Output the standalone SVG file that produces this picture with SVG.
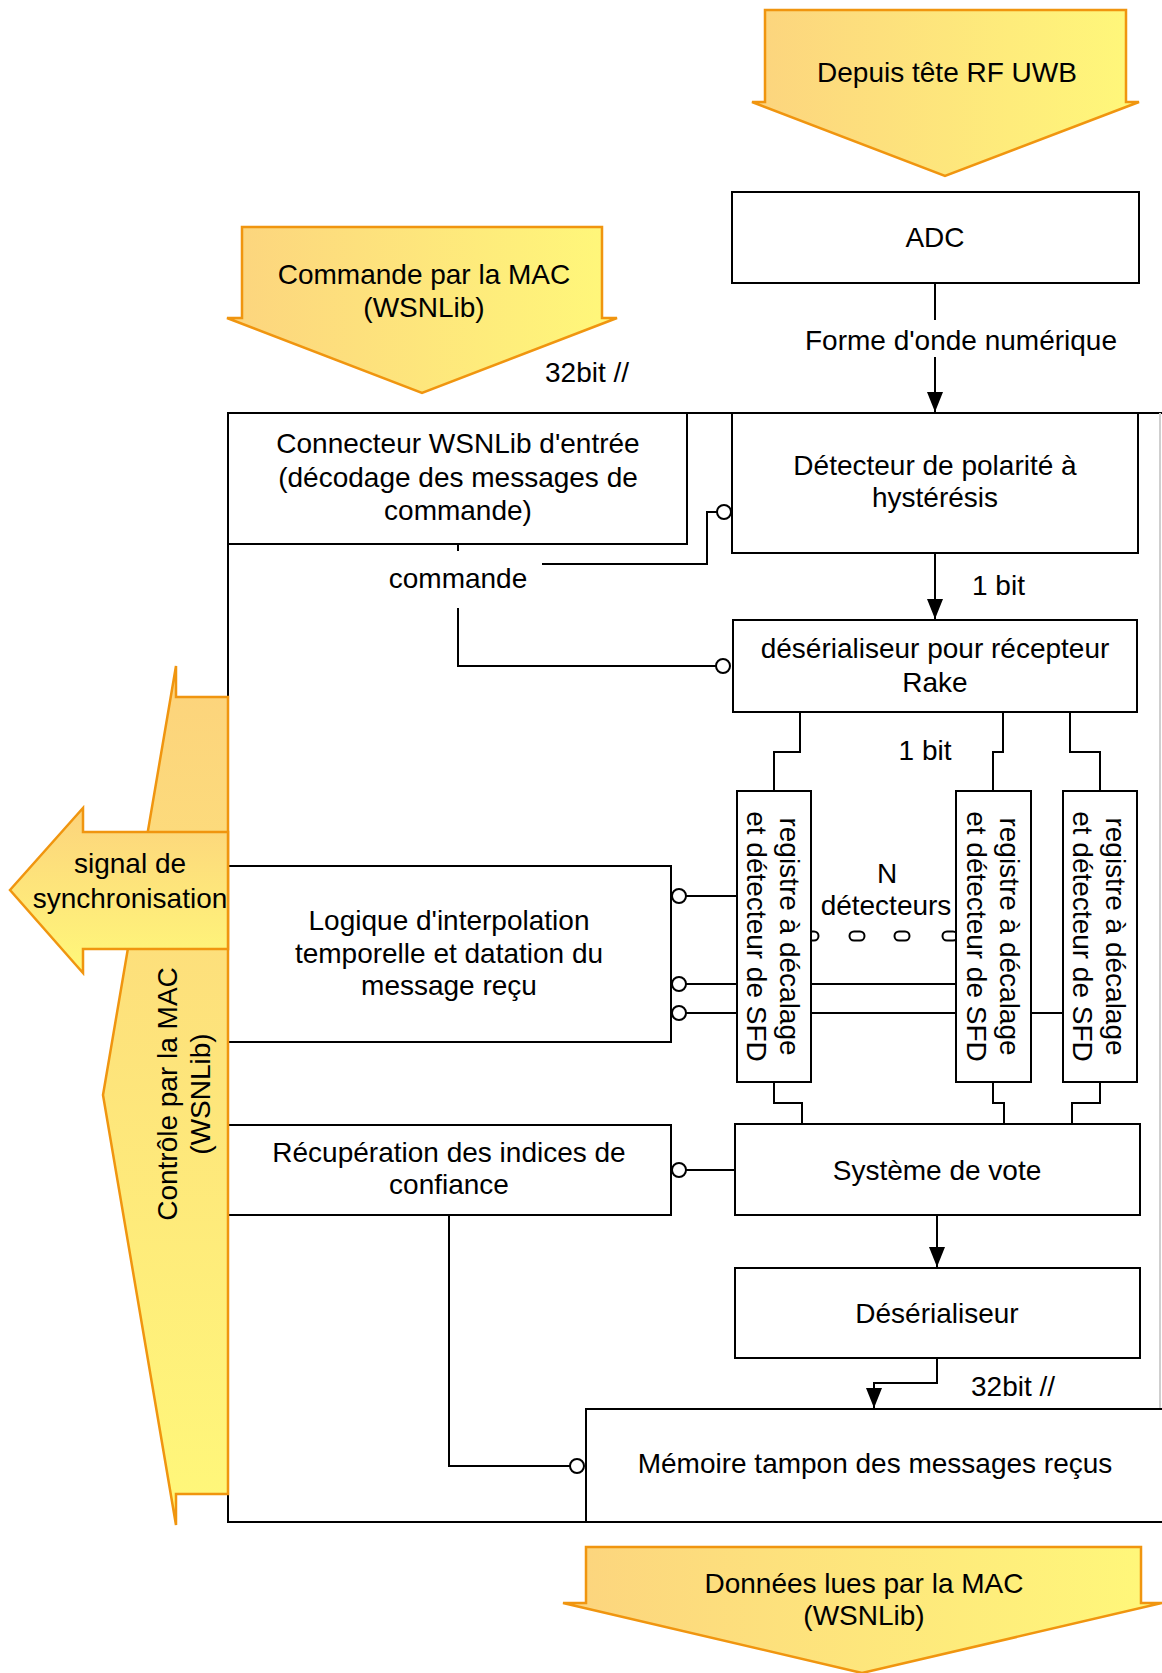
<svg xmlns="http://www.w3.org/2000/svg" width="1162" height="1673" viewBox="0 0 1162 1673">
  <style>
    .box { fill: #ffffff; stroke: #000000; stroke-width: 2; }
    .wire { fill: none; stroke: #000000; stroke-width: 2; }
    .port { fill: #ffffff; stroke: #000000; stroke-width: 2; }
    .fat { stroke: #f0950f; stroke-width: 2.5; stroke-linejoin: miter; }
    text { font-family: "Liberation Sans", Arial, Helvetica, sans-serif; font-size: 28px; fill: #000000; }
    .c { text-anchor: middle; }
  </style>
  <defs>
    <linearGradient id="gradH" x1="0" y1="0" x2="1" y2="0">
      <stop offset="0" stop-color="#fcd47e"/>
      <stop offset="1" stop-color="#fff87a"/>
    </linearGradient>
    <linearGradient id="gradV" x1="0" y1="0" x2="0" y2="1">
      <stop offset="0" stop-color="#fcd37c"/>
      <stop offset="1" stop-color="#fff87a"/>
    </linearGradient>
    <marker id="head" markerWidth="20" markerHeight="16" refX="20" refY="8" orient="auto" markerUnits="userSpaceOnUse" viewBox="0 0 20 16">
      <path d="M0,0 L20,8 L0,16 Z" fill="#000000"/>
    </marker>
  </defs>

  <!-- enclosing receiver block (right side runs off the page) -->
  <g id="frame">
    <path class="wire" d="M1162,413 L228,413 L228,1522 L1162,1522"/>
    <line x1="1160" y1="413" x2="1160" y2="1522" stroke="#cfcfcf" stroke-width="2"/>
  </g>

  <!-- ovals marking the elided detectors -->
  <g id="ellipsis">
    <rect class="port" x="803.5" y="931.5" width="15" height="9" rx="4.5"/>
    <rect class="port" x="849.5" y="931.5" width="15" height="9" rx="4.5"/>
    <rect class="port" x="894.5" y="931.5" width="15" height="9" rx="4.5"/>
    <rect class="port" x="942.5" y="931.5" width="15" height="9" rx="4.5"/>
  </g>

  <g id="connectors">
    <!-- ADC to polarity detector -->
    <path class="wire" d="M935,283 L935,320"/>
    <path class="wire" d="M935,357 L935,412" marker-end="url(#head)"/>
    <!-- detector to Rake deserialiser -->
    <path class="wire" d="M935,553 L935,619" marker-end="url(#head)"/>
    <!-- command bus -->
    <path class="wire" d="M458,544 L458,551"/>
    <path class="wire" d="M458,608 L458,666 L716,666"/>
    <path class="wire" d="M542,564 L707,564 L707,512 L717,512"/>
    <!-- Rake deserialiser to registers -->
    <path class="wire" d="M800,712 L800,752 L774,752 L774,791"/>
    <path class="wire" d="M1003,712 L1003,752 L993,752 L993,791"/>
    <path class="wire" d="M1070,712 L1070,752 L1100,752 L1100,791"/>
    <!-- registers to voting -->
    <path class="wire" d="M774,1082 L774,1103 L802,1103 L802,1124"/>
    <path class="wire" d="M993,1082 L993,1103 L1004,1103 L1004,1124"/>
    <path class="wire" d="M1100,1082 L1100,1103 L1072,1103 L1072,1124"/>
    <!-- interpolation logic to registers -->
    <path class="wire" d="M686,896 L737,896"/>
    <path class="wire" d="M686,984 L956,984"/>
    <path class="wire" d="M686,1013 L1063,1013"/>
    <!-- confidence to voting and buffer -->
    <path class="wire" d="M686,1170 L735,1170"/>
    <path class="wire" d="M449,1215 L449,1466 L570,1466"/>
    <!-- voting to deserialiser to buffer -->
    <path class="wire" d="M937,1215 L937,1267" marker-end="url(#head)"/>
    <path class="wire" d="M937,1358 L937,1383 L874,1383 L874,1408" marker-end="url(#head)"/>
    <!-- ports -->
    <circle class="port" cx="724" cy="512" r="7"/>
    <circle class="port" cx="723" cy="666" r="7"/>
    <circle class="port" cx="679" cy="896" r="7"/>
    <circle class="port" cx="679" cy="984" r="7"/>
    <circle class="port" cx="679" cy="1013" r="7"/>
    <circle class="port" cx="679" cy="1170" r="7"/>
    <circle class="port" cx="577" cy="1466" r="7"/>
  </g>

  <g id="labels">
    <text class="c" x="961" y="350">Forme d'onde numérique</text>
    <text x="545" y="382">32bit //</text>
    <text class="c" x="458" y="588">commande</text>
    <text x="972" y="595">1 bit</text>
    <text class="c" x="925" y="760">1 bit</text>
    <text class="c" x="887" y="883">N</text>
    <text class="c" x="886" y="915">détecteurs</text>
    <text x="971" y="1396">32bit //</text>
  </g>

  <g id="adc">
    <rect class="box" x="732" y="192" width="407" height="91"/>
    <text class="c" x="935" y="247">ADC</text>
  </g>

  <g id="connecteur">
    <rect class="box" x="228" y="413" width="459" height="131"/>
    <text class="c" x="458" y="453">Connecteur WSNLib d'entrée</text>
    <text class="c" x="458" y="487">(décodage des messages de</text>
    <text class="c" x="458" y="520">commande)</text>
  </g>

  <g id="detecteur-polarite">
    <rect class="box" x="732" y="413" width="406" height="140"/>
    <text class="c" x="935" y="475">Détecteur de polarité à</text>
    <text class="c" x="935" y="507">hystérésis</text>
  </g>

  <g id="deserialiseur-rake">
    <rect class="box" x="733" y="620" width="404" height="92"/>
    <text class="c" x="935" y="658">désérialiseur pour récepteur</text>
    <text class="c" x="935" y="692">Rake</text>
  </g>

  <g id="registre-1">
    <rect class="box" x="737" y="791" width="74" height="291"/>
    <g transform="translate(774,936.5) rotate(90)">
      <text class="c" x="0" y="-6">registre à décalage</text>
      <text class="c" x="0" y="27">et détecteur de SFD</text>
    </g>
  </g>

  <g id="registre-2">
    <rect class="box" x="956" y="791" width="75" height="291"/>
    <g transform="translate(993.5,936.5) rotate(90)">
      <text class="c" x="0" y="-6">registre à décalage</text>
      <text class="c" x="0" y="27">et détecteur de SFD</text>
    </g>
  </g>

  <g id="registre-3">
    <rect class="box" x="1063" y="791" width="74" height="291"/>
    <g transform="translate(1100,936.5) rotate(90)">
      <text class="c" x="0" y="-6">registre à décalage</text>
      <text class="c" x="0" y="27">et détecteur de SFD</text>
    </g>
  </g>

  <g id="logique-interpolation">
    <rect class="box" x="228" y="866" width="443" height="176"/>
    <text class="c" x="449" y="930">Logique d'interpolation</text>
    <text class="c" x="449" y="963">temporelle et datation du</text>
    <text class="c" x="449" y="995">message reçu</text>
  </g>

  <g id="recuperation-indices">
    <rect class="box" x="228" y="1125" width="443" height="90"/>
    <text class="c" x="449" y="1162">Récupération des indices de</text>
    <text class="c" x="449" y="1194">confiance</text>
  </g>

  <g id="systeme-vote">
    <rect class="box" x="735" y="1124" width="405" height="91"/>
    <text class="c" x="937" y="1180">Système de vote</text>
  </g>

  <g id="deserialiseur">
    <rect class="box" x="735" y="1268" width="405" height="90"/>
    <text class="c" x="937" y="1323">Désérialiseur</text>
  </g>

  <g id="memoire-tampon">
    <path class="box" d="M1162,1409 L586,1409 L586,1522 L1162,1522"/>
    <text class="c" x="875" y="1473">Mémoire tampon des messages reçus</text>
  </g>

  <!-- broad interface arrows -->
  <g id="depuis-rf">
    <path class="fat" fill="url(#gradH)" d="M765,10 L1126,10 L1126,102 L1139,102 L945,176 L752,102 L765,102 Z"/>
    <text class="c" x="947" y="82">Depuis tête RF UWB</text>
  </g>

  <g id="commande-mac">
    <path class="fat" fill="url(#gradH)" d="M242,227 L602,227 L602,318 L617,318 L422,393 L227,318 L242,318 Z"/>
    <text class="c" x="424" y="284">Commande par la MAC</text>
    <text class="c" x="424" y="317">(WSNLib)</text>
  </g>

  <g id="controle-mac">
    <path class="fat" fill="url(#gradV)" d="M176,666 L176,697 L228,697 L228,1494 L176,1494 L176,1525 L103,1095 Z"/>
    <g transform="translate(193,1094) rotate(-90)">
      <text class="c" x="0" y="-16">Contrôle par la MAC</text>
      <text class="c" x="0" y="17">(WSNLib)</text>
    </g>
  </g>

  <g id="signal-synchro">
    <path class="fat" fill="url(#gradV)" d="M10,890 L83,808 L83,832 L228,832 L228,949 L83,949 L83,973 Z"/>
    <text class="c" x="130" y="873">signal de</text>
    <text class="c" x="130" y="908">synchronisation</text>
  </g>

  <g id="donnees-lues">
    <path class="fat" fill="url(#gradH)" d="M586,1547 L1141,1547 L1141,1603 L1162,1603 L862,1673 L563,1603 L586,1603 Z"/>
    <text class="c" x="864" y="1593">Données lues par la MAC</text>
    <text class="c" x="864" y="1625">(WSNLib)</text>
  </g>
</svg>
